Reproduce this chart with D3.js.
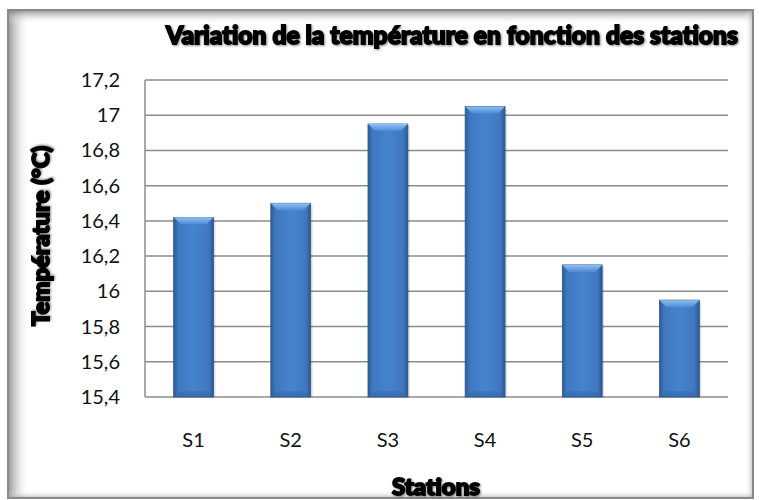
<!DOCTYPE html>
<html>
<head>
<meta charset="utf-8">
<script src="https://cdn.jsdelivr.net/npm/d3@7"></script>
<style>
  body { margin: 0; background: #fff; }
  text { font-family: Lato, "Open Sans", sans-serif; }
</style>
</head>
<body>
<div id="chart"></div>
<script>
// données
var stations = ["S1", "S2", "S3", "S4", "S5", "S6"];
var temperatures = [16.42, 16.5, 16.95, 17.05, 16.15, 15.95];
var yTicks = [15.4, 15.6, 15.8, 16, 16.2, 16.4, 16.6, 16.8, 17, 17.2];

var width = 759, height = 500;
var margin = {left: 145, right: 31, top: 80, bottom: 103};

var svg = d3.select('#chart').append('svg')
    .attr('width', width)
    .attr('height', height);

var defs = svg.append('defs');

// cadre avec ombre intérieure
var gl = defs.append('linearGradient').attr('id', 'shadeL');
gl.append('stop').attr('offset', '0%').attr('stop-color', '#777').attr('stop-opacity', 0.8);
gl.append('stop').attr('offset', '100%').attr('stop-color', '#fff').attr('stop-opacity', 0);
var gt = defs.append('linearGradient').attr('id', 'shadeT')
    .attr('x1', 0).attr('y1', 0).attr('x2', 0).attr('y2', 1);
gt.append('stop').attr('offset', '0%').attr('stop-color', '#777').attr('stop-opacity', 0.8);
gt.append('stop').attr('offset', '100%').attr('stop-color', '#fff').attr('stop-opacity', 0);
var gr = defs.append('linearGradient').attr('id', 'shadeR');
gr.append('stop').attr('offset', '0%').attr('stop-color', '#fff').attr('stop-opacity', 0);
gr.append('stop').attr('offset', '100%').attr('stop-color', '#999').attr('stop-opacity', 0.6);
var gb = defs.append('linearGradient').attr('id', 'shadeB')
    .attr('x1', 0).attr('y1', 0).attr('x2', 0).attr('y2', 1);
gb.append('stop').attr('offset', '0%').attr('stop-color', '#fff').attr('stop-opacity', 0);
gb.append('stop').attr('offset', '100%').attr('stop-color', '#999').attr('stop-opacity', 0.6);

var fx0 = 8, fy0 = 10, fx1 = 753, fy1 = 498;
svg.append('rect').attr('x', fx0).attr('y', fy0).attr('width', fx1 - fx0).attr('height', fy1 - fy0)
    .attr('fill', '#fff');
svg.append('rect').attr('x', fx0).attr('y', fy0).attr('width', 22).attr('height', fy1 - fy0)
    .attr('fill', 'url(#shadeL)');
svg.append('rect').attr('x', fx0).attr('y', fy0).attr('width', fx1 - fx0).attr('height', 14)
    .attr('fill', 'url(#shadeT)');
svg.append('rect').attr('x', fx1 - 8).attr('y', fy0).attr('width', 8).attr('height', fy1 - fy0)
    .attr('fill', 'url(#shadeR)');
svg.append('rect').attr('x', fx0).attr('y', fy1 - 8).attr('width', fx1 - fx0).attr('height', 8)
    .attr('fill', 'url(#shadeB)');
svg.append('rect').attr('x', fx0).attr('y', fy0).attr('width', fx1 - fx0).attr('height', fy1 - fy0)
    .attr('fill', 'none').attr('stroke', '#8a8a8a').attr('stroke-width', 2);

// dégradé des barres
var bg = defs.append('linearGradient').attr('id', 'barGrad');
bg.append('stop').attr('offset', '0%').attr('stop-color', '#2d5d96');
bg.append('stop').attr('offset', '12%').attr('stop-color', '#3f78c0');
bg.append('stop').attr('offset', '50%').attr('stop-color', '#4683cf');
bg.append('stop').attr('offset', '88%').attr('stop-color', '#3f78c0');
bg.append('stop').attr('offset', '100%').attr('stop-color', '#2a5890');
var bt = defs.append('linearGradient').attr('id', 'barTop')
    .attr('x1', 0).attr('y1', 0).attr('x2', 0).attr('y2', 1);
bt.append('stop').attr('offset', '0%').attr('stop-color', '#8ec0f2');
bt.append('stop').attr('offset', '100%').attr('stop-color', '#4f8ad2');
var bb = defs.append('linearGradient').attr('id', 'barBot')
    .attr('x1', 0).attr('y1', 0).attr('x2', 0).attr('y2', 1);
bb.append('stop').attr('offset', '0%').attr('stop-color', '#3a70b2');
bb.append('stop').attr('offset', '100%').attr('stop-color', '#2f609c');

var x = d3.scaleBand()
    .domain(stations)
    .range([margin.left, width - margin.right])
    .paddingInner(0.59)
    .paddingOuter(0.295);

var y = d3.scaleLinear()
    .domain([15.4, 17.2])
    .range([height - margin.bottom, margin.top]);

var fmt = function (d) { return String(+d.toFixed(1)).replace('.', ','); };

// grille
svg.append('g')
    .selectAll('line')
    .data(yTicks)
    .enter()
    .append('line')
    .attr('x1', margin.left)
    .attr('x2', width - margin.right)
    .attr('y1', function (d) { return y(d); })
    .attr('y2', function (d) { return y(d); })
    .attr('stroke', '#8c8c8c')
    .attr('stroke-width', 1.5);

svg.append('line')
    .attr('x1', margin.left).attr('x2', margin.left)
    .attr('y1', y(17.2)).attr('y2', y(15.4))
    .attr('stroke', '#8c8c8c').attr('stroke-width', 1.5);

// barres
var bars = svg.append('g').selectAll('g.bar')
    .data(stations)
    .enter()
    .append('g')
    .attr('class', 'bar');

bars.append('rect')
    .attr('x', function (d) { return x(d) + 2; })
    .attr('y', function (d, i) { return y(temperatures[i]) + 2; })
    .attr('width', x.bandwidth())
    .attr('height', function (d, i) { return y(15.4) - y(temperatures[i]) - 2; })
    .attr('fill', '#000')
    .attr('opacity', 0.12);

bars.append('rect')
    .attr('x', function (d) { return x(d); })
    .attr('y', function (d, i) { return y(temperatures[i]); })
    .attr('width', x.bandwidth())
    .attr('height', function (d, i) { return y(15.4) - y(temperatures[i]); })
    .attr('fill', 'url(#barGrad)')
    .attr('stroke', '#2a5488')
    .attr('stroke-width', 0.8);

bars.append('path')
    .attr('d', function (d, i) {
      var x0 = x(d), x1 = x(d) + x.bandwidth(), t = y(temperatures[i]), b = 7;
      return 'M' + x0 + ',' + t + 'L' + x1 + ',' + t + 'L' + (x1 - b) + ',' + (t + b) +
        'L' + (x0 + b) + ',' + (t + b) + 'Z';
    })
    .attr('fill', 'url(#barTop)');

bars.append('path')
    .attr('d', function (d, i) {
      var x0 = x(d), x1 = x(d) + x.bandwidth(), bot = y(15.4), b = 6;
      return 'M' + x0 + ',' + bot + 'L' + (x0 + b) + ',' + (bot - b) + 'L' + (x1 - b) + ',' + (bot - b) +
        'L' + x1 + ',' + bot + 'Z';
    })
    .attr('fill', 'url(#barBot)')
    .attr('opacity', 0.6);

// axe y
svg.append('g')
    .selectAll('text')
    .data(yTicks)
    .enter()
    .append('text')
    .attr('x', 120)
    .attr('y', function (d) { return y(d); })
    .attr('dy', '0.35em')
    .attr('text-anchor', 'end')
    .attr('font-size', 20)
    .attr('fill', '#111')
    .text(fmt);

// axe x
svg.append('g')
    .selectAll('text')
    .data(stations)
    .enter()
    .append('text')
    .attr('x', function (d) { return x(d) + x.bandwidth() / 2; })
    .attr('y', 440)
    .attr('dy', '0.35em')
    .attr('text-anchor', 'middle')
    .attr('font-size', 20)
    .attr('fill', '#111')
    .text(function (d) { return d; });

// titres
function heavy(sel) {
  return sel.attr('font-weight', 900)
    .attr('fill', '#000')
    .attr('stroke', '#000')
    .attr('stroke-width', 1.8)
    .style('paint-order', 'stroke')
    .style('filter', 'drop-shadow(1px 1px 1px rgba(0,0,0,0.45))');
}

heavy(svg.append('text')
    .attr('x', 452)
    .attr('y', 35)
    .attr('dy', '0.35em')
    .attr('text-anchor', 'middle')
    .attr('font-size', 25)
    .attr('textLength', 572)
    .attr('lengthAdjust', 'spacingAndGlyphs')
    .text('Variation de la température en fonction des stations'));

heavy(svg.append('text')
    .attr('transform', 'translate(41,236) rotate(-90)')
    .attr('dy', '0.35em')
    .attr('text-anchor', 'middle')
    .attr('font-size', 23)
    .attr('textLength', 180)
    .attr('lengthAdjust', 'spacingAndGlyphs')
    .text('Température (°C)'));

heavy(svg.append('text')
    .attr('x', 436)
    .attr('y', 487)
    .attr('dy', '0.35em')
    .attr('text-anchor', 'middle')
    .attr('font-size', 23)
    .attr('textLength', 88)
    .attr('lengthAdjust', 'spacingAndGlyphs')
    .text('Stations'));
</script>
</body>
</html>
